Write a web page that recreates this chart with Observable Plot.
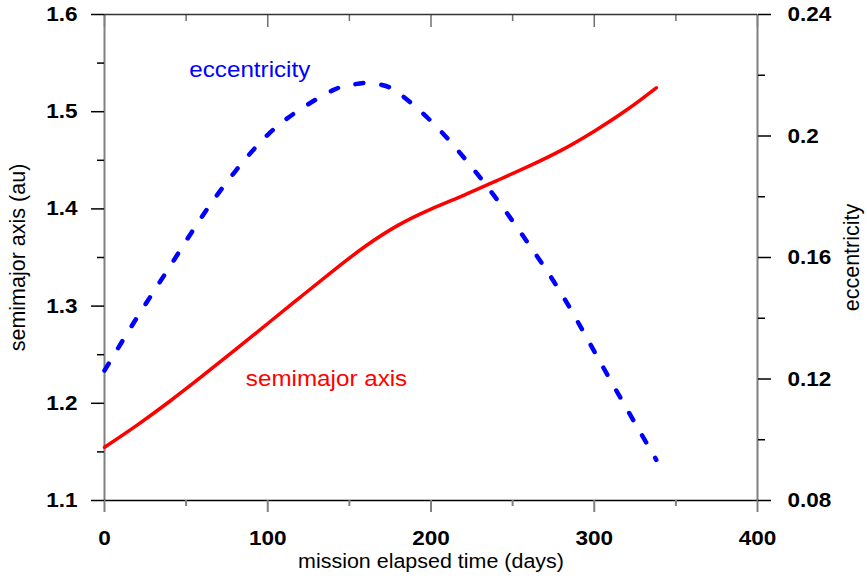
<!DOCTYPE html>
<html>
<head>
<meta charset="utf-8">
<script src="https://cdn.jsdelivr.net/npm/d3@7"></script>
<script src="https://cdn.jsdelivr.net/npm/@observablehq/plot@0.6"></script>
<style>
  html, body { margin: 0; padding: 0; background: #fff; }
  #chart svg { display: block; }
</style>
</head>
<body>
<div id="chart"></div>
<script>
// ---- data ----
const days = [0, 20, 40, 60, 80, 100, 120, 140, 160, 180, 200, 220, 240, 260, 280, 300, 320, 338];
const semimajor = [1.1548, 1.1776, 1.2021, 1.2281, 1.2549, 1.2821, 1.3093, 1.3363, 1.3618, 1.3833, 1.3998, 1.4140, 1.4288, 1.4440, 1.4605, 1.4800, 1.5020, 1.5246];

const eccDays = [0, 20, 40, 60, 80, 100, 120, 140, 150, 160, 170, 180, 200, 220, 240, 260, 280, 300, 320, 338];
const eccentricity = [0.1228, 0.1403, 0.1570, 0.1737, 0.1883, 0.2004, 0.2088, 0.2151, 0.2167, 0.2175, 0.2168, 0.2142, 0.2049, 0.1930, 0.1794, 0.1643, 0.1480, 0.1291, 0.1101, 0.0934];

const xTicks = [0, 100, 200, 300, 400];
const xMinor = [50, 150, 250, 350];
const aTicks = [1.1, 1.2, 1.3, 1.4, 1.5, 1.6];
const aMinor = [1.15, 1.25, 1.35, 1.45, 1.55];
const eTicks = [0.08, 0.12, 0.16, 0.2, 0.24];
const eMinor = [0.10, 0.14, 0.18, 0.22];

const seriesLabels = ["eccentricity", "semimajor axis"];
const labelDays = [89, 136];
const labelValues = [0.2219, 1.2255]; // eccentricity label in ecc units, semimajor label in au

const xTitle = "mission elapsed time (days)";
const yLeftTitle = "semimajor axis (au)";
const yRightTitle = "eccentricity";

// ---- dual-axis mapping ----
const eLo = 0.08, eHi = 0.24, aLo = 1.1, aHi = 1.6;
const toA = e => aLo + (e - eLo) * (aHi - aLo) / (eHi - eLo);
const fromA = a => eLo + (a - aLo) * (eHi - eLo) / (aHi - aLo);

const semiData = days.map((t, i) => ({t, a: semimajor[i]}));
const eccData = eccDays.map((t, i) => ({t, e: eccentricity[i]}));

const FONT = "'Liberation Sans', Arial, Helvetica, sans-serif";
const W = 867, H = 578, ML = 104, MR = 110, MT = 14, MB = 78;
const innerH = H - MT - MB;
const tickFont = 20.5, titleFont = 19.5, rotFont = 21.5, labelFont = 22;

const chart = Plot.plot({
  width: W, height: H,
  marginLeft: ML, marginRight: MR, marginTop: MT, marginBottom: MB,
  style: {fontFamily: FONT, background: "#fff", color: "#000", overflow: "visible"},
  x: {domain: [0, 400]},
  y: {domain: [aLo, aHi]},
  marks: [
    // inner ticks hanging from the top frame line
    Plot.ruleX(xTicks, {insetBottom: innerH - 13, stroke: "#707070", strokeWidth: 1.5}),
    Plot.ruleX(xMinor, {insetBottom: innerH - 7, stroke: "#707070", strokeWidth: 1.5}),
    // frame
    Plot.ruleX([0, 400], {stroke: "#808080", strokeWidth: 2}),
    Plot.ruleY([aHi], {stroke: "#333", strokeWidth: 1.5}),
    Plot.ruleY([aLo], {stroke: "#000", strokeWidth: 1.5}),
    // bottom axis
    Plot.axisX(xTicks, {anchor: "bottom", tickSize: 12, tickPadding: 18, stroke: "#808080", strokeWidth: 2,
      fill: "#000", fontSize: tickFont, fontWeight: "bold", label: null, tickFormat: d => String(d)}),
    Plot.axisX(xMinor, {anchor: "bottom", tickSize: 6, stroke: "#808080", strokeWidth: 2, label: null, tickFormat: () => ""}),
    // left axis
    Plot.axisY(aTicks, {anchor: "left", tickSize: 13, tickPadding: 14, stroke: "#000", strokeWidth: 1.5,
      fill: "#000", fontSize: tickFont, fontWeight: "bold", label: null, tickFormat: d => d.toFixed(1)}),
    Plot.axisY(aMinor, {anchor: "left", tickSize: 7, stroke: "#000", strokeWidth: 1.5, label: null, tickFormat: () => ""}),
    // right axis (eccentricity)
    Plot.axisY(eTicks.map(toA), {anchor: "right", tickSize: 13, tickPadding: 17, stroke: "#000", strokeWidth: 1.5,
      fill: "#000", fontSize: tickFont, fontWeight: "bold", label: null, tickFormat: a => String(+fromA(a).toFixed(2))}),
    Plot.axisY(eMinor.map(toA), {anchor: "right", tickSize: 7, stroke: "#000", strokeWidth: 1.5, label: null, tickFormat: () => ""}),
    // series
    Plot.line(eccData, {x: "t", y: d => toA(d.e), stroke: "#0000ff", strokeWidth: 4.5,
      strokeDasharray: "8,18", strokeLinecap: "round", curve: "natural"}),
    Plot.line(semiData, {x: "t", y: "a", stroke: "#ff0000", strokeWidth: 3.5, curve: "natural"}),
    // in-plot labels
    Plot.text([0], {x: i => labelDays[i], y: i => toA(labelValues[i]), text: i => seriesLabels[i], fill: "#0000ff", fontSize: labelFont}),
    Plot.text([1], {x: i => labelDays[i], y: i => labelValues[i], text: i => seriesLabels[i], fill: "#ff0000", fontSize: labelFont}),
    // axis titles
    Plot.text([yLeftTitle], {frameAnchor: "left", textAnchor: "middle", dx: -86, rotate: -90, text: d => d, fontSize: rotFont, fill: "#000"}),
    Plot.text([yRightTitle], {frameAnchor: "right", textAnchor: "middle", dx: 95, rotate: -90, text: d => d, fontSize: rotFont, fill: "#000"}),
    Plot.text([xTitle], {frameAnchor: "bottom", textAnchor: "middle", dy: 67, text: d => d, fontSize: titleFont, fill: "#000"})
  ]
});

document.getElementById("chart").append(chart);
// the reference's lettering is slightly wide: stretch horizontal glyphs
chart.querySelectorAll("text").forEach(el => {
  const tr = el.getAttribute("transform") || "";
  if (tr.includes("rotate")) return;
  const w = el.getComputedTextLength();
  if (w > 0) {
    el.setAttribute("textLength", (w * 1.1).toFixed(2));
    el.setAttribute("lengthAdjust", "spacingAndGlyphs");
  }
});
</script>
</body>
</html>
